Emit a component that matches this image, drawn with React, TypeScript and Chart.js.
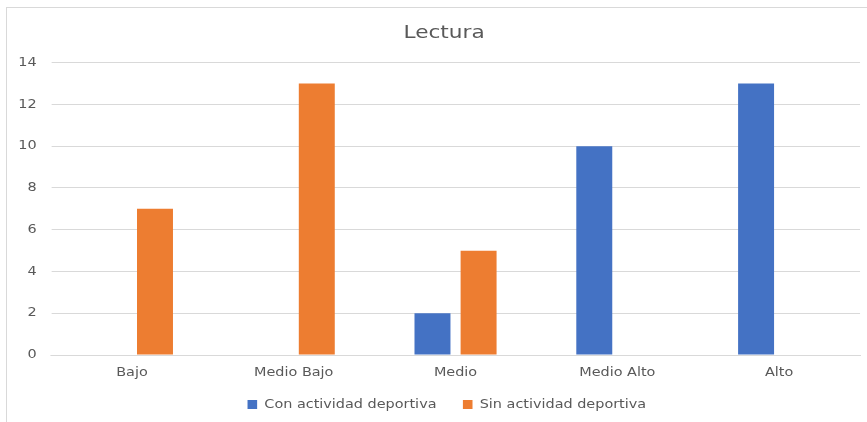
import React, { useEffect, useRef } from "react";
import { Chart, registerables } from "chart.js";

Chart.register(...registerables);

const categories = ["Bajo", "Medio Bajo", "Medio", "Medio Alto", "Alto"];
const conActividad = [0, 0, 2, 10, 13];
const sinActividad = [7, 13, 5, 0, 0];
const seriesNames = ["Con actividad deportiva", "Sin actividad deportiva"];
const titleText = "Lectura";

const FONT = "'DejaVu Sans', sans-serif";
const TEXT = "#595959";
const GRID = "#d9d9d9";

const OUT_W = 867;
const OUT_H = 422;
const CHART_W = 722; // logical width, stretched horizontally to OUT_W
const SX = OUT_W / CHART_W;
const TITLE_SHIFT = 23.4; // title centring offset
const LEGEND_SHIFT = 28; // legend centring offset
const LEGEND_PAD = 22;
const LEGEND_RAISE = 7;

const stretchPlugin = {
  id: "stretchX",
  afterLayout(chart: any) {
    if (chart.titleBlock) chart.titleBlock.left = TITLE_SHIFT;
    if (chart.legend) {
      chart.legend.left = LEGEND_SHIFT;
      chart.legend.top = chart.legend.top - LEGEND_RAISE;
    }
  },
  beforeDraw(chart: any) {
    const c = chart.canvas as HTMLCanvasElement;
    if (c.width !== OUT_W) {
      c.width = OUT_W;
      c.height = OUT_H;
    }
    c.style.width = OUT_W + "px";
    c.style.height = OUT_H + "px";
    const ctx = chart.ctx as CanvasRenderingContext2D;
    ctx.save();
    ctx.setTransform(SX, 0, 0, 1, 0, 0);
  },
  afterDraw(chart: any) {
    chart.ctx.restore();
  },
};

export default function App() {
  const ref = useRef<HTMLCanvasElement | null>(null);

  useEffect(() => {
    if (!ref.current) return;
    const chart = new Chart(ref.current, {
      type: "bar",
      data: {
        labels: categories,
        datasets: [
          {
            label: seriesNames[0],
            data: conActividad,
            backgroundColor: "#4472C4",
            categoryPercentage: 0.57,
            barPercentage: 0.78,
          },
          {
            label: seriesNames[1],
            data: sinActividad,
            backgroundColor: "#ED7D31",
            categoryPercentage: 0.57,
            barPercentage: 0.78,
          },
        ],
      },
      plugins: [stretchPlugin],
      options: {
        responsive: false,
        animation: false,
        devicePixelRatio: 1,
        layout: {
          padding: { left: 0, right: 5.8, top: 0, bottom: 1.5 - LEGEND_RAISE },
        },
        plugins: {
          title: {
            display: true,
            text: titleText,
            color: TEXT,
            font: { family: FONT, size: 18, weight: "normal" },
            padding: { top: 23, bottom: 18 },
          },
          legend: {
            position: "bottom",
            labels: {
              color: TEXT,
              font: { family: FONT, size: 12 },
              boxWidth: 8,
              boxHeight: 9,
              padding: LEGEND_PAD,
            },
          },
          tooltip: { enabled: false },
        },
        scales: {
          x: {
            grid: { display: false },
            border: { display: true, color: GRID },
            ticks: {
              color: TEXT,
              font: { family: FONT, size: 12 },
              padding: 3,
            },
          },
          y: {
            min: 0,
            max: 14,
            ticks: {
              stepSize: 2,
              color: TEXT,
              font: { family: FONT, size: 12 },
              padding: 12,
            },
            grid: { color: GRID, drawTicks: false },
            border: { display: false },
            afterFit: (scale: any) => {
              scale.width = 42.5;
            },
          },
        },
      },
    });
    return () => chart.destroy();
  }, []);

  return (
    <div
      style={{
        position: "fixed",
        left: 0,
        top: 0,
        width: OUT_W,
        height: OUT_H,
        background: "#fff",
        overflow: "hidden",
      }}
    >
      <div
        style={{
          position: "absolute",
          left: 6,
          top: 7,
          width: 900,
          height: 500,
          borderLeft: `1px solid ${GRID}`,
          borderTop: `1px solid ${GRID}`,
        }}
      />
      <canvas
        ref={ref}
        width={CHART_W}
        height={OUT_H}
        style={{ position: "absolute", left: 0, top: 0 }}
      />
    </div>
  );
}
